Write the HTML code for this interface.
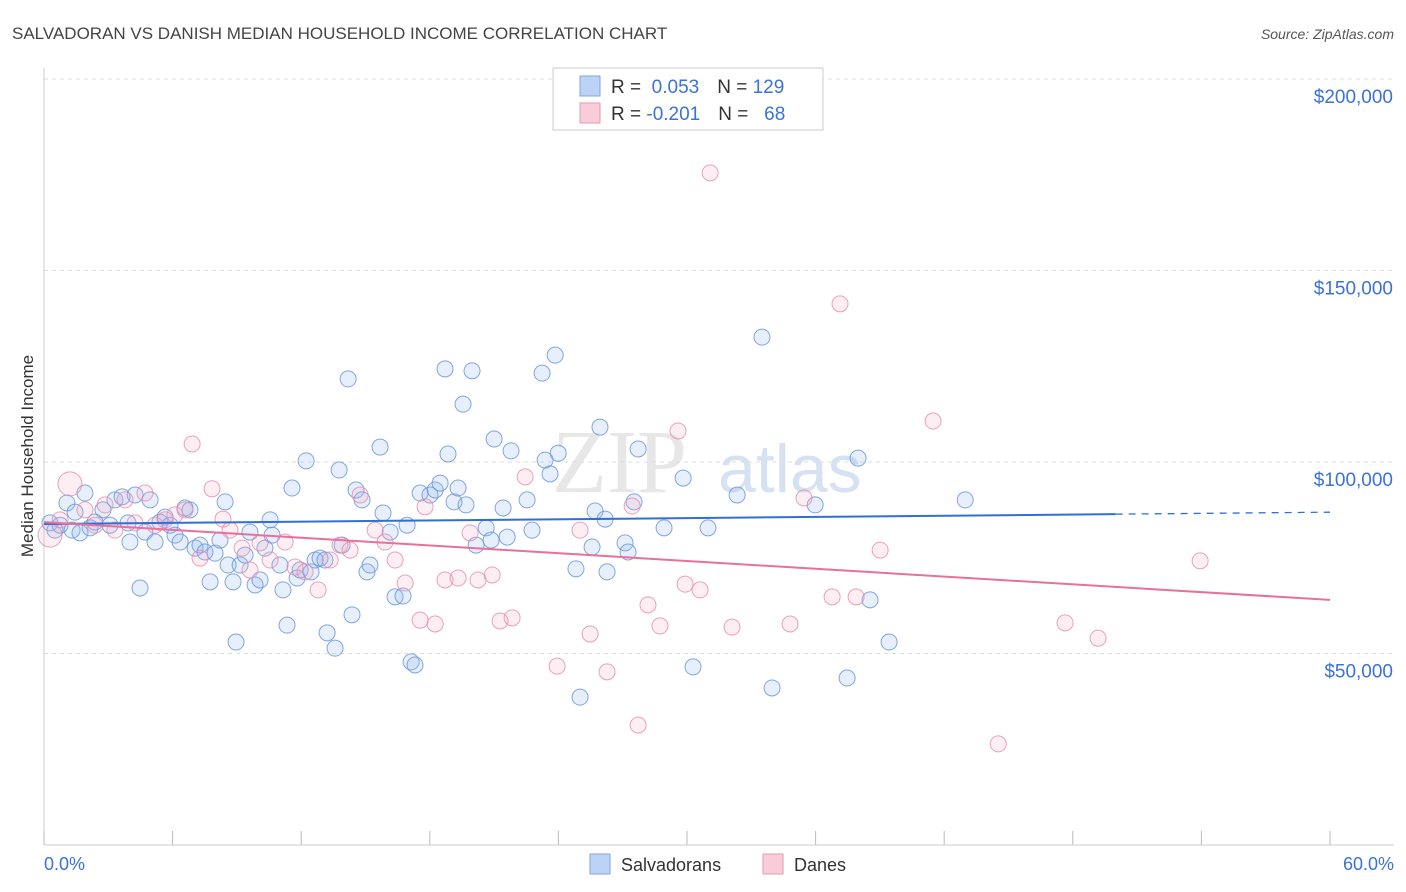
<!DOCTYPE html>
<html><head><meta charset="utf-8">
<style>
body{margin:0;background:#fff;font-family:"Liberation Sans",sans-serif;}
#wrap{position:relative;width:1406px;height:892px;overflow:hidden;}
</style></head>
<body>
<div id="wrap">
<svg id="svg" width="1406" height="892" xmlns="http://www.w3.org/2000/svg">
<text x="12" y="39" font-size="17" fill="#444">SALVADORAN VS DANISH MEDIAN HOUSEHOLD INCOME CORRELATION CHART</text>
<text x="1394" y="39" font-size="14" fill="#555" text-anchor="end" font-style="italic">Source: ZipAtlas.com</text>
<text x="33" y="456" font-size="17" fill="#333" text-anchor="middle" transform="rotate(-90 33 456)">Median Household Income</text>
<text x="552" y="492" font-size="90" fill="#d8d8d8" font-family="Liberation Serif,serif" opacity="0.6">ZIP</text>
<text x="718" y="492" font-size="68" fill="#bcd0ea" opacity="0.6">atlas</text>
<g id="grid"></g><g id="axes"></g><g id="pts"></g><g id="trend"></g>
<g>
<rect x="553" y="68" width="270" height="62" fill="#fff" stroke="#ccc"/>
<rect x="580" y="76" width="20" height="20" fill="#bcd3f5" stroke="#7fa6e0"/>
<rect x="580" y="103" width="20" height="20" fill="#f9ccd9" stroke="#e79ab4"/>
<text x="611" y="93" font-size="19" fill="#333">R = <tspan fill="#3a72d8">&#160;0.053</tspan><tspan dx="18">N = </tspan><tspan fill="#3a72d8">129</tspan></text>
<text x="611" y="120" font-size="19" fill="#333">R = <tspan fill="#3a72d8">-0.201</tspan><tspan dx="18">N = </tspan><tspan fill="#3a72d8">&#160;&#160;68</tspan></text>
</g>
<g>
<rect x="590" y="854" width="20" height="20" fill="#bcd3f5" stroke="#7fa6e0"/>
<text x="621" y="871" font-size="18" fill="#333">Salvadorans</text>
<rect x="763" y="854" width="20" height="20" fill="#f9ccd9" stroke="#e79ab4"/>
<text x="794" y="871" font-size="18" fill="#333">Danes</text>
</g>
</svg>
</div>
<script>
const blueX=[0.28,0.51,0.75,1.07,1.31,1.45,1.68,1.91,2.15,2.38,2.75,3.08,3.31,3.64,3.92,4.01,4.25,4.48,4.71,4.95,5.18,5.41,5.65,5.88,6.11,6.35,6.58,6.81,7.05,7.28,7.51,7.75,7.98,8.21,8.45,8.59,8.82,8.96,9.15,9.38,9.61,9.85,10.08,10.31,10.55,10.64,11.01,11.15,11.34,11.57,11.81,11.95,12.23,12.46,12.65,12.88,13.11,13.21,13.58,13.77,13.91,14.19,14.37,14.56,14.84,15.07,15.21,15.68,15.82,16.15,16.38,16.75,16.94,17.13,17.31,17.55,18.01,18.25,18.48,18.71,18.85,19.13,19.32,19.55,19.69,19.97,20.16,20.63,20.86,21.00,21.42,21.61,21.79,22.54,22.77,23.24,23.38,23.61,23.85,23.99,24.82,25.01,25.57,25.71,25.94,26.18,26.27,27.11,27.25,27.53,27.72,28.93,29.82,30.28,30.98,32.34,33.50,33.97,35.98,37.47,37.98,38.54,39.43,42.98];
const blueY=[84.1,82.2,83.5,89.3,82.2,86.9,81.5,91.9,82.8,84.3,87.5,83.5,90.1,90.9,84.1,79.1,91.4,67.1,81.7,90.1,79.1,84.3,85.6,83.5,80.9,79.1,88.0,87.5,77.5,78.3,76.5,68.7,76.2,79.6,89.6,73.1,68.7,53.0,73.1,75.7,81.7,67.9,69.2,77.5,84.9,80.9,73.1,66.6,57.4,93.2,69.7,71.8,100.3,71.3,74.4,74.9,74.4,55.4,51.4,97.9,78.3,121.7,60.1,92.7,90.1,71.3,73.1,103.9,86.7,81.7,64.8,65.0,83.5,47.8,47.0,91.9,91.4,92.7,94.5,124.3,102.1,89.6,93.2,115.1,88.8,123.8,78.3,82.8,79.6,106.0,88.0,80.4,102.9,90.1,82.2,123.2,100.5,96.9,127.9,102.3,72.1,38.6,77.8,87.2,109.1,85.1,71.3,78.9,76.5,89.6,103.4,82.8,95.8,46.5,82.8,91.4,132.6,41.0,88.8,43.6,101.0,64.0,53.0,90.1];
const pinkX=[0.28,0.75,1.21,1.91,2.38,2.85,3.31,3.78,4.25,4.71,5.18,5.65,6.11,6.58,6.91,7.28,7.84,8.35,8.68,9.24,9.61,10.08,10.55,11.25,11.71,12.18,12.79,13.35,13.81,14.28,14.75,15.45,15.91,16.38,16.85,17.55,17.78,18.25,18.71,19.32,19.88,20.25,20.91,21.28,21.84,22.45,23.94,25.01,25.48,26.27,27.44,27.72,28.18,28.74,29.58,29.91,30.61,31.08,32.10,34.81,35.46,36.77,37.14,37.89,39.01,41.48,44.52,47.64,49.18,53.94];
const pinkY=[80.9,84.9,94.3,87.5,83.5,88.8,82.2,90.1,84.1,91.9,83.5,84.9,86.2,87.5,104.7,74.9,93.0,85.1,82.2,77.5,71.8,78.9,74.4,79.1,72.6,71.3,66.6,74.4,78.3,77.0,91.4,82.2,79.1,74.4,68.4,58.7,88.3,57.7,69.2,69.7,81.5,69.2,70.5,58.5,59.3,96.1,46.7,82.2,55.1,45.2,88.5,31.3,62.7,57.2,108.1,68.1,66.6,175.5,56.9,57.7,90.6,64.8,141.3,64.8,77.0,110.7,26.4,58.0,54.0,74.2];
const blueTrend=[83.8,86.9];
const pinkTrend=[84.3,64.0];
const yTicks=[50,100,150,200];
const yTickLabels=["$50,000","$100,000","$150,000","$200,000"];
const xTicks=[0,6,12,18,24,30,36,42,48,54,60];

const NS="http://www.w3.org/2000/svg";
const X=v=>44+v*1286/60;
const Y=v=>462-(v-100)*191.5/50;
function mk(tag,attrs,parent){const e=document.createElementNS(NS,tag);for(const k in attrs)e.setAttribute(k,attrs[k]);parent.appendChild(e);return e;}
const grid=document.getElementById('grid'),axes=document.getElementById('axes'),pts=document.getElementById('pts'),trend=document.getElementById('trend');
yTicks.forEach((t,i)=>{
  const l=mk('line',{x1:44,x2:1394,y1:Y(t),y2:Y(t),stroke:'#ddd','stroke-dasharray':'4,4'},grid);
  
  
  const tx=mk('text',{x:1393,y:Y(t)+24,'font-size':19,fill:'#3a72d8','text-anchor':'end'},grid);
  tx.textContent=yTickLabels[i];
  
  
});
const ax=mk('line',{x1:44,x2:1394,y1:845,y2:845,stroke:'#ccc'},axes);


const ay=mk('line',{x1:44,x2:44,y1:68,y2:845,stroke:'#ccc'},axes);


xTicks.forEach(t=>{
  const l=mk('line',{x1:X(t),x2:X(t),y1:831,y2:845,stroke:'#bbb'},axes);
  
  
});
const xl0=mk('text',{x:44,y:870,'font-size':18,fill:'#3a72d8'},axes);xl0.textContent=xTicks[0].toFixed(1)+'%';


const xl1=mk('text',{x:1394,y:870,'font-size':18,fill:'#3a72d8','text-anchor':'end'},axes);xl1.textContent=xTicks[xTicks.length-1].toFixed(1)+'%';


blueX.forEach((x,i)=>{
  const c=mk('circle',{cx:X(x),cy:Y(blueY[i]),r:8,fill:'rgba(140,180,235,0.22)',stroke:'rgba(100,145,220,0.8)','stroke-width':1},pts);
  
  
});
pinkX.forEach((x,i)=>{
  const big=(i<3&&i!==1);
  const c=mk('circle',{cx:X(x),cy:Y(pinkY[i]),r:big?12:8,fill:'rgba(245,170,195,0.2)',stroke:'rgba(228,140,170,0.8)','stroke-width':1},pts);
  
  
});
const bv=x=>blueTrend[0]+(blueTrend[1]-blueTrend[0])*x/60;
const t1=mk('line',{x1:X(0),y1:Y(bv(0)),x2:X(50),y2:Y(bv(50)),stroke:'#2f6fd6','stroke-width':2},trend);


const t2=mk('line',{x1:X(50),y1:Y(bv(50)),x2:X(60),y2:Y(bv(60)),stroke:'#2f6fd6','stroke-width':1.3,'stroke-dasharray':'7,6'},trend);


const t3=mk('line',{x1:X(0),y1:Y(pinkTrend[0]),x2:X(60),y2:Y(pinkTrend[1]),stroke:'#e8709a','stroke-width':2},trend);


</script>
</body></html>
